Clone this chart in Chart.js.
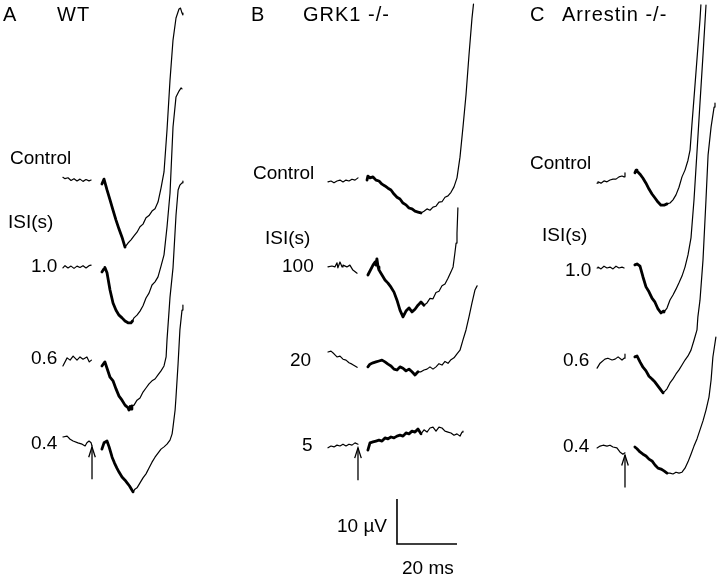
<!DOCTYPE html>
<html>
<head>
<meta charset="utf-8">
<script src="https://cdn.jsdelivr.net/npm/chart.js@4.4.1/dist/chart.umd.min.js"></script>
<style>
  html, body { margin: 0; padding: 0; background: #fff; }
  #fig { position: relative; width: 720px; height: 578px; overflow: hidden; background: #fff; }
  #fig canvas { position: absolute; left: 0; top: 0; }
  .lbl {
    position: absolute;
    font-family: "Liberation Sans", Arial, Helvetica, sans-serif;
    font-size: 19px;
    line-height: 19px;
    color: #000;
    white-space: nowrap;
  }
  .ttl { font-size: 20px; line-height: 20px; letter-spacing: 1px; }
</style>
</head>
<body>
<div id="fig"><canvas id="traces" width="720" height="578"></canvas></div>
<script>
// panels and labels
const panelLetters = ["A", "B", "C"];
const genotypes = ["WT", "GRK1 -/-", "Arrestin -/-"];
const wtIsi = ["1.0", "0.6", "0.4"];
const grkIsi = ["100", "20", "5"];
const arrIsi = ["1.0", "0.6", "0.4"];
const scaleBarMs = 20;
const scaleBarUv = 10;

// traces: time (ms, flash at 0) and amplitude (µV, from baseline); null = gap
// WT
const wtCtrlT = [-9.7,-9,-8,-7,-6,-5,-4,-3,-2,-1,-0.3, 1.5, 3.3,4,5,6,7,8,9,10,11, 12,13,14,15,16,17,18,19,20,21,22,23,24,25,26,27,28,29,29.5,30,30.3];
const wtCtrlV = [0.6,0.3,0.5,-0.1,0.3,-0.2,0.2,-0.3,0.1,-0.2,0, null, -0.9,0.2,-2.2,-4.4,-6.7,-8.9,-10.9,-12.7,-14.9, -14.0,-13.3,-12.4,-11.6,-10.4,-9.8,-8.4,-7.9,-6.9,-6.4,-4.9,-1.8,1.8,11.1,22.2,31.1,36,38,38.2,37.1,36.7];
const wt10T = [-9.7,-9,-8,-7,-6,-5,-4,-3,-2,-1,-0.3, 1.5, 3.3,4,4.3,5,6,7,8,9,10,11,12,13,13.5, 14,15,16,17,18,19,20,21,22,23,24,25,26,27,28,29,29.7,30];
const wt10V = [-0.2,0.3,-0.2,0.2,-0.3,0.2,-0.1,0.3,-0.2,0.3,0.4, null, -1.1,-0.4,-0.1,-1.3,-5.1,-8,-9.6,-10.7,-11.3,-12,-12.4,-12.4,-12, -11.3,-10.7,-9.8,-8.6,-6.9,-5.8,-4.0,-3.3,-2.2,0.2,2.7,8.9,16.4,31.1,37.8,39.1,39.8,39.6];
const wt06T = [-9.7,-8.3,-7.3,-6.3,-5,-4,-3,-1.7,-0.9,-0.2, 1.5, 3.3,4.3,5,6,7,8,9,10,11,12,12.3,12.7,13,13.3, 14,15,16,17,18,19,20,21,22,23,24,24.7,25,25.7,26,27,28,28.7,29.3,30,30.3];
const wt06V = [-1.1,0.7,0.2,1.1,0.2,0.9,0.4,0.9,-0.2,0.2, null, -1.1,-0.2,-1.6,-3.6,-4.4,-6.2,-7.8,-8.7,-9.8,-10.4,-10.9,-10.1,-10.7,-10, -9.8,-8.7,-8.2,-6.9,-6,-5.1,-4.4,-4,-3.1,-2.2,-1.1,0.9,4.7,11.3,14.2,20.7,32.4,38,39.1,39.6,40];
const wt04T = [-9.7,-8.3,-7.3,-6.3,-4.7,-3.3,-2.3,-1.7,-1,-0.3,0, 1.5, 3.3,4,5,5.7,6.7,7.5,8.3,9,10,11,11.7,12.5,13.3,13.7, 14.3,15,16,17,18,19,20,21,22,23,24,25,26,26.7,27,27.7,28,28.7,29.3,30,30.3];
const wt04V = [0.9,1.1,0.4,0,-0.4,-0.7,-1.1,-0.4,0,-0.4,-1.1, null, -1.8,-0.4,0,-1.3,-3.6,-4.9,-6,-6.9,-8,-8.7,-9.3,-10,-10.9,-11.3, -10.7,-10.4,-9.3,-8.2,-7.3,-6,-4.7,-3.6,-2.7,-1.8,-1.3,-0.7,0.2,1.6,3.1,6.9,9.8,17.3,24.7,29.1,30.2];
const wtAWaveEnd = [11, 13.5, 13.3, 13.7];

// GRK1 -/-
const grkCtrlT = [-10,-9,-8,-7,-6,-5,-4,-3,-2,-1,0, 1.5, 3,3.3,4,5,6,7,8,9,10,11,12,13,14,15,16,17,18,19,20,21, 22,23,24,25,26,27,28,29,30,31,32,33,34,35,36,37,38,38.5];
const grkCtrlV = [-0.2,0,-0.4,0,0.2,-0.2,0.2,0,0.4,0.2,0.7, null, 0.2,1.1,0.7,0.9,0.2,0,-0.7,-1.1,-1.6,-2.0,-2.9,-3.6,-4,-4.9,-5.3,-6,-6.2,-6.7,-6.9,-7.1, -6.7,-6.2,-6.5,-5.8,-5.6,-4.7,-4.6,-3.6,-3.3,-2.5,-1.3,0.7,5.3,12,19.1,28,36.2,39.3];
const grk100T = [-10,-8.7,-7.7,-7,-6.7,-6,-5.3,-5,-3.7,-2.7,-1.7,-0.3, 1.5, 3.3,5,5.7,6,6.3,6.7,7,8,9,10,11,12,13,14,15,16,17,18,19,20,21,22, 23,24,25,26,27,28,29,30,31,31.7,32.3,32.7,33,33.3];
const grk100V = [-0.2,0,-0.2,0.7,-0.4,0.9,-0.2,0.2,-0.2,0.2,-0.9,-1.6, null, -2,0.2,0.9,0.2,1.6,-0.2,-0.9,-2,-3.1,-3.8,-4.7,-5.8,-7.6,-9.8,-11.3,-10,-9.3,-10.2,-9.6,-8.7,-8,-8.7, -8.2,-7.2,-7.3,-5.9,-5.6,-4.4,-4.0,-2.7,-1.3,-0.2,2.9,5.1,7.3,12.9];
const grk20T = [-10,-9,-8,-7,-6,-5,-4,-3,-2,-1,-0.3, 1.5, 3.3,4,5,6,7,8,9,10,11,12,13,14,15,16,17,18,19,20, 21,22,23,24,25,26,27,28,29,30,31,32,33,34,35,36,37,38,39,39.7];
const grk20V = [0,0.2,-0.4,-1.1,-0.9,-1.6,-1.8,-2.4,-2.7,-3.1,-3.4, null, -3.3,-2.7,-2.4,-2.2,-2,-1.8,-2.2,-2.7,-3.1,-3.8,-4,-3.3,-3.6,-4.2,-3.8,-4.4,-5.1,-4.4, -4.4,-4,-3.8,-3.3,-3.8,-3.3,-2.6,-2.9,-2.1,-2.5,-1.7,-1.3,-0.4,0.4,2.7,4.9,7.8,10.9,13.8,14.7];
const grk5T = [-10,-9,-8,-7,-6,-5,-4,-3,-2,-1,0, 1.5, 3.3,4,5,6,7,8,9,10,11,12,13,14,15,16,17,18,19,20,21, 22,23,24,25,26,27,28,29,30,31,32,33,34,34.7,35];
const grk5V = [-0.4,0,-0.2,0.2,0,0.4,0,0.4,0.2,0.7,0.4, null, -0.9,0.7,0.9,1.1,1.3,1.1,1.8,1.6,2,1.8,2.2,2.4,2.2,2.9,2.7,3.3,3.1,3.8,2.7, 3.6,3.1,4,4.2,3.3,4.2,4,3.3,3.1,2.9,2.4,2.7,2.2,3.1,3.3];
const grkAWaveEnd = [21, 22, 20, 21];

// Arrestin -/-
const arrCtrlT = [-9.3,-9,-8,-7,-6,-5,-4,-3,-2,-1,-0.3,0, 1.5, 3.3,3.7,4,5,6,7,8,9,10,11,12,13,14, 15,16,17,18,19,20,21,21.7,22.3,23,24,25,25.3];
const arrCtrlV = [-0.7,-0.4,-0.7,-0.2,-0.4,0,0.2,0.2,0.7,0.9,0.7,1.6, null, 1.6,2.2,2,1.3,0.4,-0.7,-2,-3.1,-4,-4.9,-5.6,-5.6,-5.3, -5.1,-4.4,-3.3,-1.6,0.7,2.2,4.4,6.7,12.2,18.2,26.9,35.6,38.9];
const arr10T = [-9.3,-9,-8,-7,-6,-5,-4,-3,-2,-1,-0.3, 1.5, 3.3,4,5,6,7,8,9,10,11,12,12.7,13, 14,15,16,17,18,19,20,21,22,23,24,25,26,27];
const arr10V = [0,0.2,-0.2,0.4,0,0.2,-0.2,0.4,0,0.2,0, null, 0.7,0.9,0.4,-2,-4.2,-5.3,-6.7,-7.6,-9.1,-10,-9.6,-9.8, -8.9,-7.1,-6,-4.7,-3.3,-1.8,0.2,2.9,6.7,15.1,25.8,36.7,47.3,58.4];
const arr06T = [-9.3,-8.3,-6.7,-5.7,-4.3,-3.3,-2.3,-1,-0.3,0, 1.5, 3.3,4,5,6,7,8,9,10,11,12,12.7, 13.3,14,15,16,17,18,19,20,21,22,23,24,24.3,25,26,27,27.7,28.7,29.7,30];
const arr06V = [-1.8,-0.7,0.2,0.4,0,0.2,0.7,0,0.4,1.3, null, 0.7,0.9,-0.4,-1.6,-2.4,-3.6,-4.2,-4.9,-5.8,-6.7,-7.3, -6.9,-6.4,-5.1,-4.2,-3.1,-2.2,-1.1,0,0.9,2.2,4.4,6.7,9.6,13.3,22.2,35.6,45.6,51.8,56.2,57.1];
const arr04T = [-9.3,-8.3,-7.3,-6,-5,-4,-2.7,-1.7,-0.7,0, 1.5, 3.3,4,5,6,7,8,9,10,11,12,13,14, 15,16,17,18,19,20,21,22,23,24,25,26,27,28,28.7,29.3,30.3];
const arr04V = [-0.2,0.2,0.4,0.2,0.4,0,-0.2,-1.1,-1.6,-1.3, null, 0,-0.4,-1.1,-1.6,-2,-2.7,-3.1,-4,-4.7,-4.9,-5.3,-5.8, -5.8,-6,-5.6,-5.8,-5.6,-4.7,-3.3,-1.6,0.2,1.8,3.8,5.8,8.2,11.1,14.9,20,24.4];
const arrAWaveEnd = [14, 13, 12.7, 14];

// ---- layout (canvas is 3 px per ms, 4.5 px per µV) ----
const PX_PER_MS = 3, PX_PER_UV = 4.5;
const X_MAX = 720 / PX_PER_MS;
const Y_MAX = 578 / PX_PER_UV;
const stimX = [30.67, 119.33, 208.33];
const rowY = [
  [88.44, 69.11, 48.22, 30.44],
  [88.22, 69.33, 50.22, 29.33],
  [88.44, 68.89, 48.44, 29.11]
];
const arrowTip = [-1.3, -0.4, -1.8];
const arrowLen = 7.2;
const scaleCorner = { x: 132.33, y: 7.56 };
const THIN = 1.2, THICK = 2.8, INK = "#000";

const panelTraces = [
  [[wtCtrlT, wtCtrlV], [wt10T, wt10V], [wt06T, wt06V], [wt04T, wt04V]],
  [[grkCtrlT, grkCtrlV], [grk100T, grk100V], [grk20T, grk20V], [grk5T, grk5V]],
  [[arrCtrlT, arrCtrlV], [arr10T, arr10V], [arr06T, arr06V], [arr04T, arr04V]]
];
const aWaveEnds = [wtAWaveEnd, grkAWaveEnd, arrAWaveEnd];

const datasets = [];

panelTraces.forEach((traces, p) => {
    traces.forEach((tr, r) => {
        const t = tr[0], v = tr[1];
        if (t.length !== v.length) {
            throw new Error(`length mismatch panel ${p} row ${r}: ${t.length} vs ${v.length}`);
        }
        const x0 = stimX[p], y0 = rowY[p][r];
        const end = aWaveEnds[p][r];
        datasets.push({
            data: t.map((tt, i) => ({ x: x0 + tt, y: v[i] === null ? null : y0 + v[i] })),
            showLine: true,
            borderColor: INK,
            borderWidth: THIN,
            pointRadius: 0,
            borderJoinStyle: "round",
            borderCapStyle: "round",
            segment: {
                borderWidth: c => (t[c.p0DataIndex] >= 3 && t[c.p1DataIndex] <= end) ? THICK : THIN
            }
        });
    });

    // flash arrow under the last trace
    const ax = stimX[p];
    const tipY = rowY[p][3] + arrowTip[p];
    datasets.push({
        data: [{ x: ax, y: tipY - arrowLen }, { x: ax, y: tipY }],
        showLine: true, borderColor: INK, borderWidth: 1.3, pointRadius: 0
    });
    datasets.push({
        data: [{ x: ax - 1.1, y: tipY - 2.3 }, { x: ax, y: tipY }, { x: ax + 1.1, y: tipY - 2.3 }],
        showLine: true, borderColor: INK, borderWidth: 1.3, pointRadius: 0
    });
});

// scale bar
datasets.push({
    data: [
        { x: scaleCorner.x, y: scaleCorner.y + scaleBarUv },
        { x: scaleCorner.x, y: scaleCorner.y },
        { x: scaleCorner.x + scaleBarMs, y: scaleCorner.y }
    ],
    showLine: true, borderColor: INK, borderWidth: 1.6, pointRadius: 0,
    borderJoinStyle: "miter"
});

new Chart(document.getElementById("traces"), {
    type: "scatter",
    data: { datasets: datasets },
    options: {
        responsive: false,
        animation: false,
        devicePixelRatio: 1,
        layout: { padding: 0 },
        scales: {
            x: { type: "linear", min: 0, max: X_MAX, display: false },
            y: { type: "linear", min: 0, max: Y_MAX, display: false }
        },
        plugins: {
            legend: { display: false },
            tooltip: { enabled: false }
        }
    }
});

// ---- text labels ----
const fig = document.getElementById("fig");

function addLabel(text, left, capTop, cls) {
    const d = document.createElement("div");
    d.className = "lbl" + (cls ? " " + cls : "");
    d.textContent = text;
    d.style.left = left + "px";
    d.style.top = (capTop - (cls ? 2.7 : 2.5)) + "px";
    fig.appendChild(d);
}

const letterPos = [[3, 7], [251, 7], [530, 7]];
const genoPos = [[57, 7], [303, 7], [562, 7]];
const controlPos = [[10, 150.5], [253, 165], [530, 155]];
const isiHeadPos = [[8, 214], [265, 230], [542, 227]];
const isiPos = [
  [[31, 258], [31, 350], [31, 435]],
  [[282, 258], [290, 352], [302, 437]],
  [[565, 262], [563, 352], [563, 438]]
];
const isiLabels = [wtIsi, grkIsi, arrIsi];

panelLetters.forEach((letter, p) => {
    addLabel(letter, letterPos[p][0], letterPos[p][1], "ttl");
    addLabel(genotypes[p], genoPos[p][0], genoPos[p][1], "ttl");
    addLabel("Control", controlPos[p][0], controlPos[p][1]);
    addLabel("ISI(s)", isiHeadPos[p][0], isiHeadPos[p][1]);
    isiLabels[p].forEach((s, i) => addLabel(s, isiPos[p][i][0], isiPos[p][i][1]));
});

addLabel(`${scaleBarUv} µV`, 337, 518);
addLabel(`${scaleBarMs} ms`, 402, 560);
</script>
</body>
</html>
